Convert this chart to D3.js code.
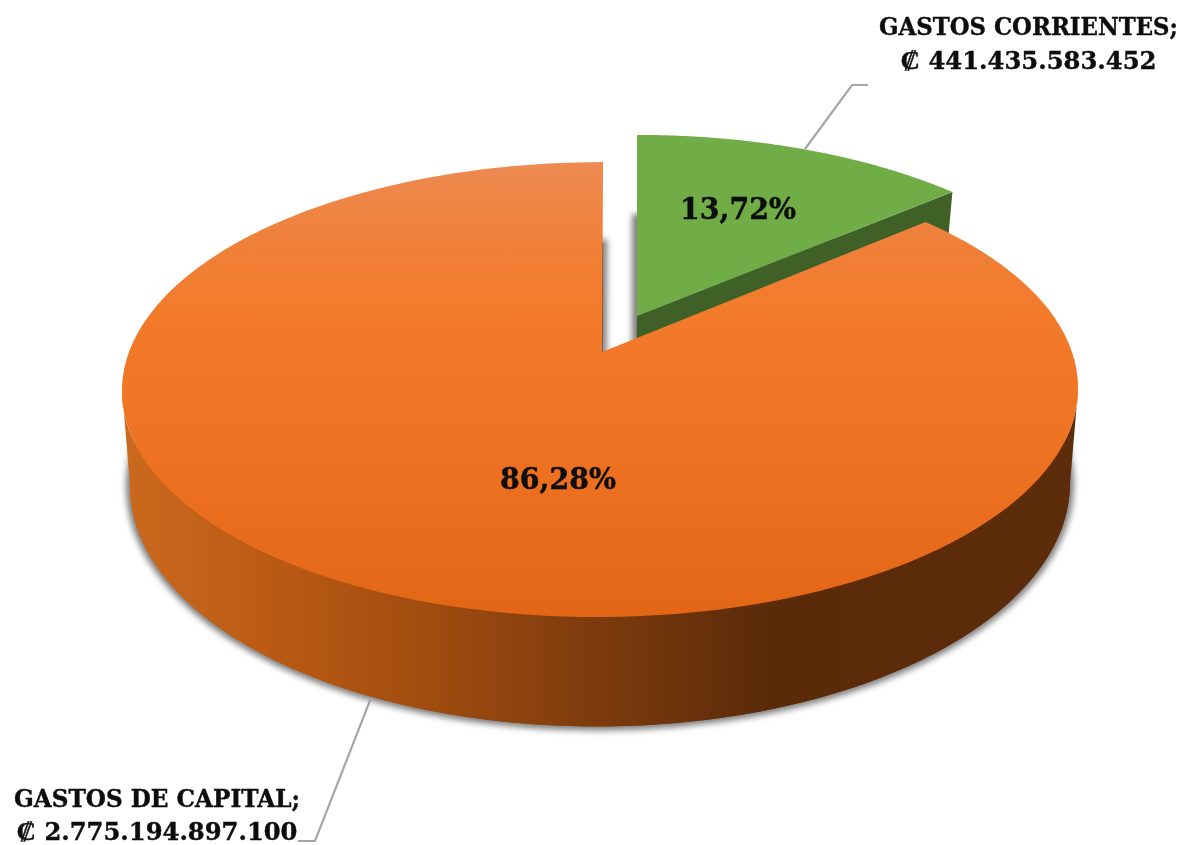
<!DOCTYPE html>
<html>
<head>
<meta charset="utf-8">
<script src="https://cdn.jsdelivr.net/npm/d3@7/dist/d3.min.js"></script>
<style>
html,body{margin:0;padding:0;background:#fff;overflow:hidden}
svg{display:block}
text{font-family:"DejaVu Serif Condensed","DejaVu Serif",serif;font-stretch:condensed;font-weight:700;fill:#0a0a0a;stroke:#0a0a0a;stroke-width:.35;text-anchor:middle}
</style>
</head>
<body>
<svg id="chart" width="1187" height="845"></svg>
<script>
// Data
const categories = ["GASTOS CORRIENTES;", "GASTOS DE CAPITAL;"];
const amounts = ["₡ 441.435.583.452", "₡ 2.775.194.897.100"];
const values = [441435583452, 2775194897100];
const percents = ["13,72%", "86,28%"];

const W = 1187, H = 845;
const svg = d3.select("#chart").attr("viewBox", `0 0 ${W} ${H}`);
const defs = svg.append("defs");

// Perspective: circle (u,v) maps to screen through a homography
const K = 0.165;
function projector(ax, ay, hw, up, shear = 0) {
  return t => {
    const u = Math.sin(t), v = Math.cos(t), d = 1 + K * v;
    return [ax + (hw * u + shear * v) / d, ay - up * v / d];
  };
}
const slices = d3.pie().sort(null).startAngle(0).endAngle(2 * Math.PI)(values);
const green = slices[0], orange = slices[1];

const top0 = projector(600.5, 352, 471.5, 221.3, 3);
const bot0 = projector(600.5, 445, 463.5, 235, 3);
const top1 = projector(637, 316, 460, 211);
const bot1 = projector(636, 409, 450, 222.5);

const line = d3.line();
const samples = (a, b, n = 160) => d3.range(n + 1).map(i => a + (b - a) * i / n);
const sector = (p, s) => line([[p.apexX, p.apexY], ...samples(s.startAngle, s.endAngle).map(p.f)]) + "Z";
const mk = (f, x, y) => ({f, apexX: x, apexY: y});
const T0 = mk(top0, 602, 352), B0 = mk(bot0, 602, 445), T1 = mk(top1, 637, 316), B1 = mk(bot1, 636, 409);

// Gradients
const gTop = defs.append("linearGradient").attr("id", "gTop").attr("gradientUnits", "userSpaceOnUse")
  .attr("x1", 0).attr("x2", 0).attr("y1", 162).attr("y2", 617);
[[0, "#ee8a52"], [0.18, "#f08038"], [0.35, "#f37a2a"], [0.7, "#ec7020"], [1, "#e26616"]]
  .forEach(([o, c]) => gTop.append("stop").attr("offset", o).attr("stop-color", c));
const gSide = defs.append("linearGradient").attr("id", "gSide").attr("gradientUnits", "userSpaceOnUse")
  .attr("x1", 122).attr("x2", 1078).attr("y1", 0).attr("y2", 0);
[[0, "#cb691e"], [0.15, "#bb5b14"], [0.3, "#a44e10"], [0.5, "#7c3b0d"], [0.68, "#5a2a09"], [1, "#5c2c0b"]]
  .forEach(([o, c]) => gSide.append("stop").attr("offset", o).attr("stop-color", c));
const blur = defs.append("filter").attr("id", "soft")
  .attr("x", "-10%").attr("y", "-10%").attr("width", "120%").attr("height", "120%");
blur.append("feGaussianBlur").attr("stdDeviation", 3.2);
const blurText = defs.append("filter").attr("id", "softText")
  .attr("x", "-5%").attr("y", "-20%").attr("width", "110%").attr("height", "140%");
blurText.append("feGaussianBlur").attr("stdDeviation", 0.45);

// Wall between the tangent points of the two rims
const tangent = Math.acos(-K);
const wallAngles = samples(tangent, 2 * Math.PI - tangent);
const wallPath = line([...wallAngles.map(top0), ...wallAngles.slice().reverse().map(bot0)]) + "Z";

// Soft shadows of the lower faces
const shadow = svg.append("g").attr("filter", "url(#soft)");
[sector(B1, green), sector(B0, orange)].forEach(d => {
  shadow.append("path").attr("d", d)
    .attr("fill", "#7d7d7d").attr("stroke", "#7d7d7d").attr("stroke-width", 8);
});

// Green slice: cut face then top
const gs = green.endAngle;
svg.append("path").attr("fill", "#3f6128")
  .attr("d", line([[T1.apexX, T1.apexY], top1(gs), bot1(gs), [B1.apexX, B1.apexY]]) + "Z");
svg.append("path").attr("d", sector(T1, green)).attr("fill", "#70ad47");

// Orange slice: wall then top
svg.append("path").attr("fill", "url(#gSide)").attr("d", wallPath);
svg.append("path").attr("d", sector(B0, orange)).attr("fill", "url(#gSide)");
svg.append("path").attr("d", sector(T0, orange)).attr("fill", "url(#gTop)");

// Leader lines
const leaders = [
  [[805, 149], [852, 85], [868, 85]],
  [[371, 698], [315, 841], [298, 841]]
];
svg.selectAll("path.leader").data(leaders).join("path").attr("class", "leader")
  .attr("d", d => line(d)).attr("fill", "none").attr("stroke", "#a6a6a6").attr("stroke-width", 2.2);

// Labels
const labelPos = [
  {x: 1028.5, y1: 35, y2: 69, w1: 299, w2: 256},
  {x: 157, y1: 807, y2: 840, w1: 286, w2: 281}
];
const labels = svg.append("g").attr("filter", "url(#softText)");
categories.forEach((c, i) => {
  const p = labelPos[i];
  labels.append("text").attr("x", p.x).attr("y", p.y1).attr("font-size", 25)
    .attr("textLength", p.w1).attr("lengthAdjust", "spacingAndGlyphs").text(c);
  labels.append("text").attr("x", p.x).attr("y", p.y2).attr("font-size", 25)
    .attr("textLength", p.w2).attr("lengthAdjust", "spacingAndGlyphs").text(amounts[i]);
});
const pctPos = [[738, 219], [558, 489]];
percents.forEach((t, i) => {
  labels.append("text").attr("x", pctPos[i][0]).attr("y", pctPos[i][1]).attr("font-size", 30)
    .attr("textLength", 116).attr("lengthAdjust", "spacingAndGlyphs").text(t);
});
</script>
</body>
</html>
